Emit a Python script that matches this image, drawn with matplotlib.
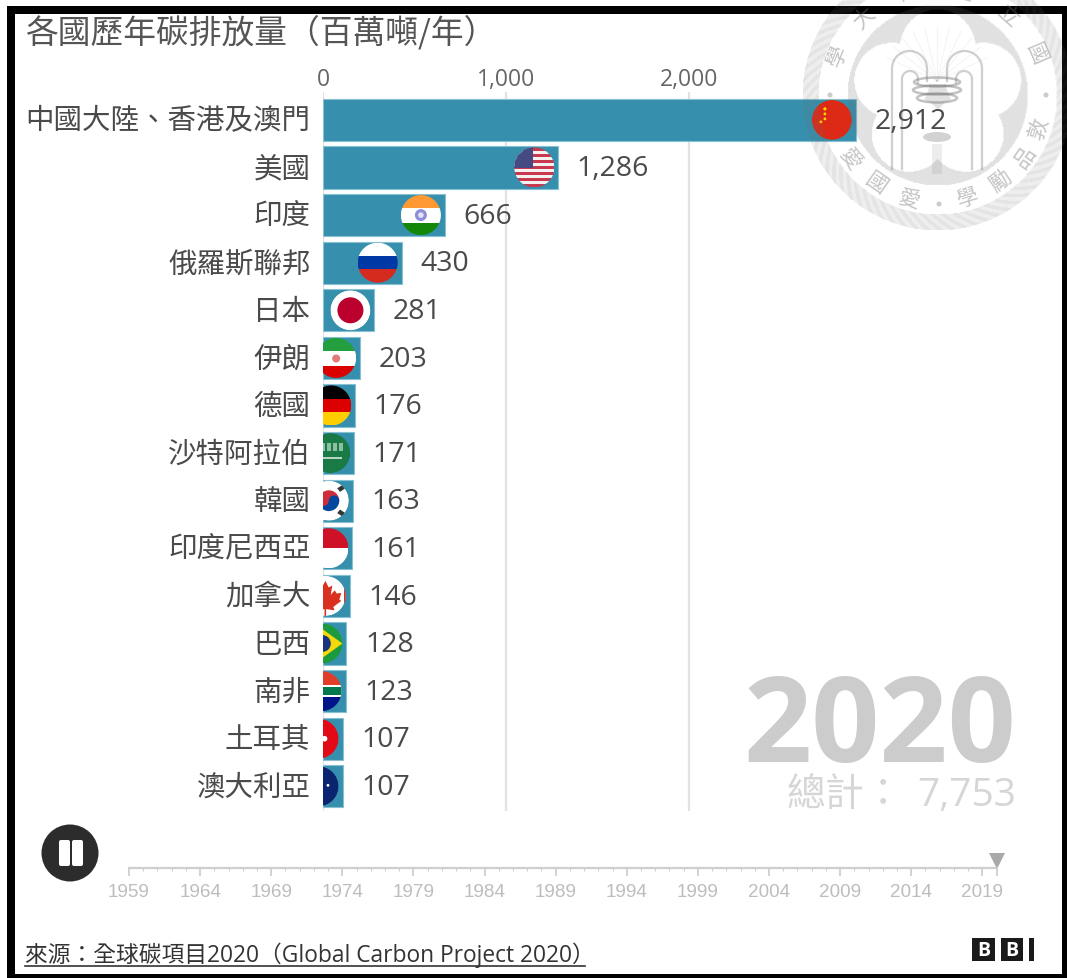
import numpy as np
import matplotlib.pyplot as plt
from matplotlib.lines import Line2D
from matplotlib.path import Path
from matplotlib.patches import Circle, Ellipse, FancyBboxPatch, Polygon, Rectangle, Wedge
from matplotlib.transforms import Affine2D, IdentityTransform, ScaledTranslation

W, H = 1067, 979

countries = ['中國大陸、香港及澳門', '美國', '印度', '俄羅斯聯邦', '日本', '伊朗', '德國', '沙特阿拉伯',
             '韓國', '印度尼西亞', '加拿大', '巴西', '南非', '土耳其', '澳大利亞']
emissions = [2912, 1286, 666, 430, 281, 203, 176, 171, 163, 161, 146, 128, 123, 107, 107]
flag_codes = ['cn', 'us', 'in', 'ru', 'jp', 'ir', 'de', 'sa', 'kr', 'id', 'ca', 'br', 'za', 'tr', 'au']
axis_ticks = [0, 1000, 2000]
axis_labels = ['0', '1,000', '2,000']
year_ticks = list(range(1959, 2020, 5))
current_year = 2020
total = 7753

LATIN_CJK = ['Open Sans', 'Noto Sans CJK TC', 'DejaVu Sans']
plt.rcParams['font.family'] = LATIN_CJK

BAR = '#3690ad'
TEXT = '#4a4a4a'

fig = plt.figure(figsize=(W / 100, H / 100), dpi=100, facecolor='white')


def px_rect(x0, y0, x1, y1):
    # 픽셀 좌표(위가 0)를 figure 비율로 변환
    return [x0 / W, 1 - y1 / H, (x1 - x0) / W, (y1 - y0) / H]


# main bar chart
ax = fig.add_axes(px_rect(323, 93, 323 + 0.183 * 3600, 812))
ax.patch.set_alpha(0)
ax.set_xlim(0, 3600)
ax.set_ylim(14.519, -0.586)
rows = np.arange(len(countries))
ax.barh(rows, emissions, height=0.885, color=BAR, edgecolor='#86c0d2', linewidth=0.8, zorder=2)

ax.xaxis.tick_top()
ax.set_xticks(axis_ticks)
ax.set_xticklabels(axis_labels, fontsize=16.5, color='#666666')
ax.set_yticks(rows)
ax.set_yticklabels(countries, fontsize=20.5, color=TEXT, family=['Noto Sans CJK TC'])
ax.tick_params(axis='x', length=0, pad=0.5)
ax.tick_params(axis='y', length=0, pad=9)
up = ScaledTranslation(0, 3 / 100, fig.dpi_scale_trans)
for label in ax.get_yticklabels():
    label.set_transform(label.get_transform() + up)
for s in ax.spines.values():
    s.set_visible(False)
ax.grid(axis='x', color='#e2e2e2', linewidth=1.6, zorder=0)
ax.set_axisbelow(True)

for i, v in enumerate(emissions):
    ax.annotate(f'{v:,}', (v, i), xytext=(13.4, -0.5), textcoords='offset points',
                ha='left', va='center', fontsize=20.5, color=TEXT, zorder=4)


def draw_flag(code, value, row):
    # 막대 끝에서 안쪽으로 24px 들어간 곳에 원형 국기
    r = 20
    cx, cy = ax.transData.transform((value, row))
    cx -= 24
    left = ax.transData.transform((0, 0))[0]
    tf = Affine2D().scale(r).translate(cx, cy)
    t = np.linspace(0, 2 * np.pi, 120)
    verts = np.column_stack([np.maximum(cx + r * np.cos(t), left), cy + r * np.sin(t)])
    clip = Path(verts)

    def put(p):
        p.set_transform(tf)
        p.set_linewidth(0)
        p.set_zorder(3)
        ax.add_patch(p)
        p.set_clip_path(clip, IdentityTransform())

    def rect(x0, y0, x1, y1, c):
        put(Rectangle((x0, y0), x1 - x0, y1 - y0, facecolor=c))

    def disc(x, y, rad, c):
        put(Circle((x, y), rad, facecolor=c))

    def poly(pts, c):
        put(Polygon(pts, closed=True, facecolor=c))

    if code == 'cn':
        disc(0, 0, 1, '#dc2a17')
        for x, y, s in [(-.35, .55, .08), (-.35, .3, .07), (-.35, .05, .07), (-.55, -.1, .07)]:
            disc(x, y, s, '#ffde00')
    elif code == 'us':
        for k in range(13):
            rect(-1, 1 - k * 2 / 13 - 2 / 13, 1, 1 - k * 2 / 13, '#c8384e' if k % 2 == 0 else '#f4f0f0')
        rect(-1, -.05, -.05, 1, '#454a82')
    elif code == 'in':
        rect(-1, .33, 1, 1, '#ff9933')
        rect(-1, -.4, 1, .33, 'white')
        rect(-1, -1, 1, -.4, '#138808')
        disc(0, 0, .3, '#8c8fd8')
        disc(0, 0, .14, '#e4e4f6')
    elif code == 'ru':
        rect(-1, .33, 1, 1, 'white')
        rect(-1, -.33, 1, .33, '#0039a6')
        rect(-1, -1, 1, -.33, '#d52b1e')
    elif code == 'jp':
        disc(0, 0, 1, 'white')
        disc(0, 0, .65, '#bc002d')
    elif code == 'ir':
        rect(-1, .33, 1, 1, '#239f40')
        rect(-1, -.4, 1, .33, 'white')
        rect(-1, -1, 1, -.4, '#da0000')
        disc(0, -.03, .2, '#e27a7a')
    elif code == 'de':
        rect(-1, .33, 1, 1, 'black')
        rect(-1, -.33, 1, .33, '#dd0000')
        rect(-1, -1, 1, -.33, '#ffce00')
    elif code == 'sa':
        disc(0, 0, 1, '#1a7a45')
        for x in [-.75, -.45, -.15, .15, .45]:
            rect(x, .1, x + .2, .5, '#8fbfa3')
        rect(-.7, -.3, .6, -.22, '#b5d5c0')
    elif code == 'kr':
        disc(0, 0, 1, 'white')
        put(Wedge((0, 0), .52, 0, 180, facecolor='#cd2e3a'))
        put(Wedge((0, 0), .52, 180, 360, facecolor='#0047a0'))
        disc(-.26, 0, .26, '#cd2e3a')
        disc(.26, 0, .26, '#0047a0')
        poly([(.42, .62), (.56, .44), (.82, .62), (.7, .8)], '#333333')
        poly([(.42, -.62), (.56, -.44), (.82, -.62), (.7, -.8)], '#333333')
    elif code == 'id':
        rect(-1, 0, 1, 1, '#ce1126')
        rect(-1, -1, 1, 0, 'white')
    elif code == 'ca':
        disc(0, 0, 1, 'white')
        rect(.92, -1, 1, 1, '#d9301f')
        poly([(-.02, .75), (.15, .42), (.33, .52), (.25, .05), (.45, .28), (.55, .12), (.78, .15),
              (.68, -.18), (.78, -.25), (.38, -.55), (.44, -.72), (.02, -.66), (.02, -1),
              (-.06, -1), (-.06, -.66), (-.48, -.72), (-.42, -.55), (-.82, -.25), (-.72, -.18),
              (-.82, .15), (-.59, .12), (-.49, .28), (-.29, .05), (-.37, .52), (-.19, .42)], '#d9301f')
    elif code == 'br':
        disc(0, 0, 1, '#1b9a3e')
        poly([(-1.1, 0), (0, .72), (1.0, 0), (0, -.72)], '#f5d90a')
        disc(0, 0, .42, '#16357f')
    elif code == 'za':
        rect(-1, .2, 1, 1, '#e23d28')
        rect(-1, -1, 1, -.2, '#001489')
        rect(-1, -.32, 1, .32, 'white')
        rect(-1, -.18, 1, .18, '#007a4d')
    elif code == 'tr':
        disc(0, 0, 1, '#e30a17')
        disc(.3, 0, .14, 'white')
    elif code == 'au':
        disc(0, 0, 1, '#0b2470')
        disc(.47, .05, .07, 'white')


fig.canvas.draw()
for row, (code, v) in enumerate(zip(flag_codes, emissions)):
    draw_flag(code, v, row)

# year slider
ax_t = fig.add_axes(px_rect(129, 849, 996.5, 869))
ax_t.patch.set_alpha(0)
ax_t.set_xlim(1959, current_year)
ax_t.set_ylim(0, 1)
ax_t.set_yticks([])
for name in ['top', 'left', 'right']:
    ax_t.spines[name].set_visible(False)
ax_t.spines['bottom'].set_color('#cfcfcf')
ax_t.spines['bottom'].set_linewidth(1.6)
ax_t.set_xticks(year_ticks + [current_year])
ax_t.set_xticklabels([str(y) for y in year_ticks] + [''], fontsize=13.6, color='#bdbdbd',
                     family=['Liberation Sans'])
ax_t.set_xticks(range(1959, current_year + 1), minor=True)
ax_t.tick_params(axis='x', which='major', length=5.5, width=1.1, color='#c8c8c8', pad=5.5)
ax_t.tick_params(axis='x', which='minor', length=2.2, width=0.8, color='#d0d0d0')
ax_t.plot([current_year], [0.36], marker='v', color='#a9a9a9', markersize=12,
          markeredgewidth=0, clip_on=False)

# 나머지 장식은 픽셀 좌표 오버레이에 그림
ov = fig.add_axes([0, 0, 1, 1], zorder=10)
ov.patch.set_alpha(0)
ov.axis('off')
ov.set_xlim(0, W)
ov.set_ylim(H, 0)
ov.set_autoscale_on(False)

for x0, y0, x1, y1 in [(7, 7, W, 15), (7, 7, 15, H), (1062, 7, W, H), (7, 975, W, H)]:
    ov.add_patch(Rectangle((x0, y0), x1 - x0, y1 - y0, facecolor='black', linewidth=0))

ov.text(25, 32, '各國歷年碳排放量（百萬噸/年）', fontsize=23.6, color='#555555', ha='left', va='center',
        family=['Noto Sans CJK TC', 'Open Sans'])
ov.text(1016, 762, str(current_year), fontsize=86, fontweight='bold', color='#cccccc', ha='right', va='baseline')
ov.text(1016, 806, f'{total:,}', fontsize=28, color='#d6d6d6', ha='right', va='baseline')
ov.text(787, 806, '總計：', fontsize=28, color='#d6d6d6', ha='left', va='baseline',
        family=['Noto Sans CJK TC'])

ov.text(25, 955, '來源：全球碳項目2020（Global Carbon Project 2020）', fontsize=16.4, color='#333333',
        ha='left', va='center')
ov.add_line(Line2D([25, 585], [967, 967], color='#333333', linewidth=1.2))

# pause button
ov.add_patch(Circle((70, 854), 28.5, facecolor='#2c2c2c', linewidth=0))
for x in (59, 72):
    ov.add_patch(FancyBboxPatch((x + 2, 843), 7, 22, boxstyle='round,pad=2', facecolor='white', linewidth=0))

# logo
for x0, x1, ch in [(972, 995, 'B'), (1001, 1023, 'B'), (1029, 1034, '')]:
    ov.add_patch(Rectangle((x0, 939), x1 - x0, 23, facecolor='#1a1a1a', linewidth=0))
    ov.text((x0 + x1) / 2, 951, ch, color='white', fontsize=14, fontweight='bold', ha='center', va='center')

# watermark seal
SX, SY = 937, 96
gx, gy = np.meshgrid(np.arange(SX - 140, SX + 141), np.arange(SY - 140, SY + 141))
dx, dy = gx - SX, gy - SY
rad = np.hypot(dx, dy)
ang = np.arctan2(dy, dx)
petals = np.zeros_like(rad, dtype=bool)
for a in np.radians([90, 18, 162, 234, 306]):
    petals |= np.hypot(dx - 48 * np.cos(a), dy + 48 * np.sin(a)) < 37.5
alpha = np.zeros_like(rad, dtype=float)
alpha[(rad < 90) & ~petals] = 0.2
band = (rad > 119) & (rad < 135)
pattern = 0.11 + 0.07 * (np.sin(70 * ang + 0.7 * rad) > 0)
alpha[band] = pattern[band]
rgba = np.zeros(rad.shape + (4,))
rgba[..., :3] = 0.42
rgba[..., 3] = alpha
ov.imshow(rgba, extent=(SX - 140.5, SX + 140.5, SY + 140.5, SY - 140.5), interpolation='bilinear',
          aspect='auto', zorder=5)
ov.set_xlim(0, W)
ov.set_ylim(H, 0)

SEAL = (0.42, 0.42, 0.42)


def arch(sx, leg, end, half, top, leg_bottom, end_bottom):
    # 기둥 하나와 안쪽으로 휘어지는 아치
    mid = SX + sx * (leg + end) / 2
    t = np.linspace(0, np.pi, 40)
    xs = np.r_[SX + sx * leg, mid + sx * half * np.cos(t), SX + sx * end]
    ys = np.r_[leg_bottom, top + half - half * np.sin(t), end_bottom]
    ov.add_line(Line2D(xs, ys, color=SEAL, alpha=0.32, linewidth=1.6, zorder=6))


for sx in (-1, 1):
    arch(sx, 45, 10, 17.5, 52, 170, 82)
    arch(sx, 35, 19, 8, 72, 170, 84)
for a in np.radians(np.arange(25, 160, 13)):
    ov.add_line(Line2D([SX, SX + 55 * np.cos(a)], [82, 82 - 55 * np.sin(a)], color=SEAL, alpha=0.07,
                       linewidth=0.8, zorder=6))
for y, w, h in [(83, 46, 9), (91, 48, 9), (99, 40, 9)]:
    ov.add_patch(Ellipse((SX, y), w, h, facecolor='none', edgecolor=SEAL, alpha=0.4, linewidth=1.8, zorder=6))
ov.add_patch(Ellipse((SX, 138), 28, 10, facecolor=SEAL, edgecolor='none', alpha=0.3, zorder=6))
ov.add_patch(Rectangle((SX - 5, 145), 10, 30, facecolor=SEAL, edgecolor='none', alpha=0.12, zorder=6))

upper = [('學', 158), ('大', 133), ('灣', 105), ('臺', 76), ('立', 48), ('國', 23)]
lower = [('敦', -18), ('品', -35), ('勵', -53), ('學', -73), ('愛', -105), ('國', -125), ('愛', -144)]
for ch, a in upper + lower:
    rot = a - 90 if a > 0 else a + 90
    ov.text(SX + 107 * np.cos(np.radians(a)), SY - 107 * np.sin(np.radians(a)), ch, fontsize=15.5,
            rotation=rot, rotation_mode='anchor', ha='center', va='center', color=SEAL, alpha=0.4,
            family=['Noto Sans CJK TC'], zorder=6)
for x, y in [(830, 96), (1046, 96), (939, 205)]:
    ov.add_patch(Circle((x, y), 2.5, facecolor=SEAL, alpha=0.35, linewidth=0, zorder=6))

fig.savefig('out.png', dpi=100)
